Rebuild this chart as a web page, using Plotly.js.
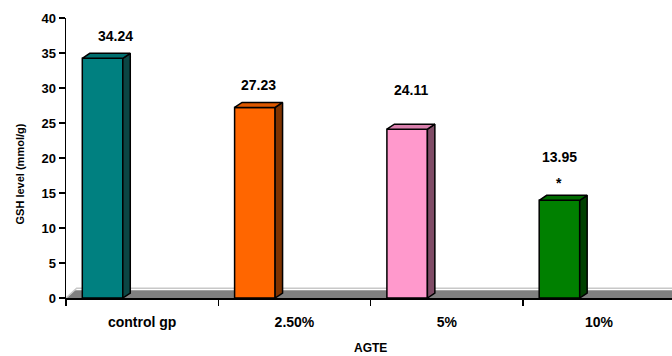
<!DOCTYPE html>
<html>
<head>
<meta charset="utf-8">
<script src="https://cdn.plot.ly/plotly-3.0.1.min.js"></script>
<style>
  html, body { margin: 0; padding: 0; background: #ffffff; }
  #chart { width: 672px; height: 356px; }
</style>
</head>
<body>
<div id="chart"></div>
<script>
// ---- data ----
const categories = ['control gp', '2.50%', '5%', '10%'];
const values = [34.24, 27.23, 24.11, 13.95];
const valueLabels = ['34.24', '27.23', '24.11', '13.95'];
const significance = ['', '', '', '*'];
const xTitle = 'AGTE';
const yTitle = 'GSH level (mmol/g)';

// ---- styles ----
const frontColors = ['#008080', '#ff6600', '#ff99cc', '#008000'];
const topColors   = ['#006f6f', '#dd5800', '#d980ad', '#006a00'];
const sideColors  = ['#0b4644', '#7f3300', '#7f4c66', '#004000'];
const labelShiftX = [-27, -35.5, -36, -40];
const labelShiftY = [22.5, 22.5, 39, 43];
const starShiftX = -40;
const starShiftY = 17;

const FONT = 'Liberation Sans, Arial, Helvetica, sans-serif';
const barOffset = -0.393;   // left edge of front face relative to category index
const barWidth = 0.266;
const depthX = 0.049;       // 3D depth in x units
const depthY = 0.714;       // 3D depth in y units
const xMax = 3.479;

const idx = categories.map((c, i) => i);

const traces = [];
traces.push({
  type: 'bar',
  x: idx,
  y: values,
  width: barWidth,
  offset: barOffset,
  marker: { color: frontColors, line: { color: '#000000', width: 1.5 } },
  hoverinfo: 'skip'
});

values.forEach((v, i) => {
  const xl = i + barOffset;
  const xr = xl + barWidth;
  traces.push({
    type: 'scatter', mode: 'lines', fill: 'toself',
    x: [xr, xr + depthX, xr + depthX, xr, xr],
    y: [0, depthY, v + depthY, v, 0],
    fillcolor: sideColors[i],
    line: { color: '#000000', width: 1.5 },
    hoverinfo: 'skip'
  });
  traces.push({
    type: 'scatter', mode: 'lines', fill: 'toself',
    x: [xl, xl + depthX, xr + depthX, xr, xl],
    y: [v, v + depthY, v + depthY, v, v],
    fillcolor: topColors[i],
    line: { color: '#000000', width: 1.5 },
    hoverinfo: 'skip'
  });
});

const annotations = [];
values.forEach((v, i) => {
  annotations.push({
    x: i, y: v, xref: 'x', yref: 'y',
    xshift: labelShiftX[i], yshift: labelShiftY[i],
    text: valueLabels[i], showarrow: false,
    xanchor: 'center', yanchor: 'middle',
    font: { family: FONT, size: 14, color: '#000000', weight: 'bold' }
  });
  if (significance[i]) {
    annotations.push({
      x: i, y: v, xref: 'x', yref: 'y',
      xshift: starShiftX, yshift: starShiftY,
      text: significance[i], showarrow: false,
      xanchor: 'center', yanchor: 'middle',
      font: { family: FONT, size: 14, color: '#000000', weight: 'bold' }
    });
  }
});
annotations.push({
  x: -0.0767, y: 0.443, xref: 'paper', yref: 'paper',
  text: yTitle, textangle: -90, showarrow: false,
  xanchor: 'center', yanchor: 'middle',
  font: { family: FONT, size: 11, color: '#000000', weight: 'bold' }
});
annotations.push({
  x: 0.5017, y: -0.179, xref: 'paper', yref: 'paper',
  text: xTitle, showarrow: false,
  xanchor: 'center', yanchor: 'middle',
  font: { family: FONT, size: 12, color: '#000000', weight: 'bold' }
});

const layout = {
  width: 672, height: 356,
  margin: { l: 66, r: 0, t: 18, b: 58, pad: 0 },
  paper_bgcolor: '#ffffff', plot_bgcolor: '#ffffff',
  showlegend: false,
  xaxis: {
    range: [-0.5, xMax],
    showgrid: false, zeroline: false,
    showline: true, linecolor: '#000000', linewidth: 2,
    tickmode: 'array', tickvals: idx, ticktext: categories,
    ticks: '', ticklabelstandoff: 10,
    tickfont: { family: FONT, size: 14, color: '#000000', weight: 'bold' },
    minor: { tickmode: 'array', tickvals: [-0.5, 0.5, 1.5, 2.5, 3.5], ticks: 'outside', ticklen: 6, tickwidth: 1.5, tickcolor: '#000000', showgrid: false }
  },
  yaxis: {
    range: [0, 40], tick0: 0, dtick: 5,
    showgrid: false, zeroline: false,
    showline: true, linecolor: '#000000', linewidth: 1.5,
    ticks: 'outside', ticklen: 6, tickwidth: 1.5, tickcolor: '#000000',
    tickfont: { family: FONT, size: 13, color: '#000000', weight: 'bold' }
  },
  shapes: [
    { type: 'path', xref: 'x', yref: 'y', layer: 'below',
      path: 'M -0.5,0 L -0.44,1.1 L ' + xMax + ',1.1 L ' + xMax + ',0 Z',
      fillcolor: '#808080', line: { width: 0 } },
    { type: 'path', xref: 'x', yref: 'y', layer: 'below',
      path: 'M -0.5,0 L -0.43,1.39 L ' + xMax + ',1.39',
      line: { color: '#c8c8c8', width: 1.5 } }
  ],
  annotations: annotations
};

Plotly.newPlot('chart', traces, layout, { staticPlot: true, displayModeBar: false });
</script>
</body>
</html>
